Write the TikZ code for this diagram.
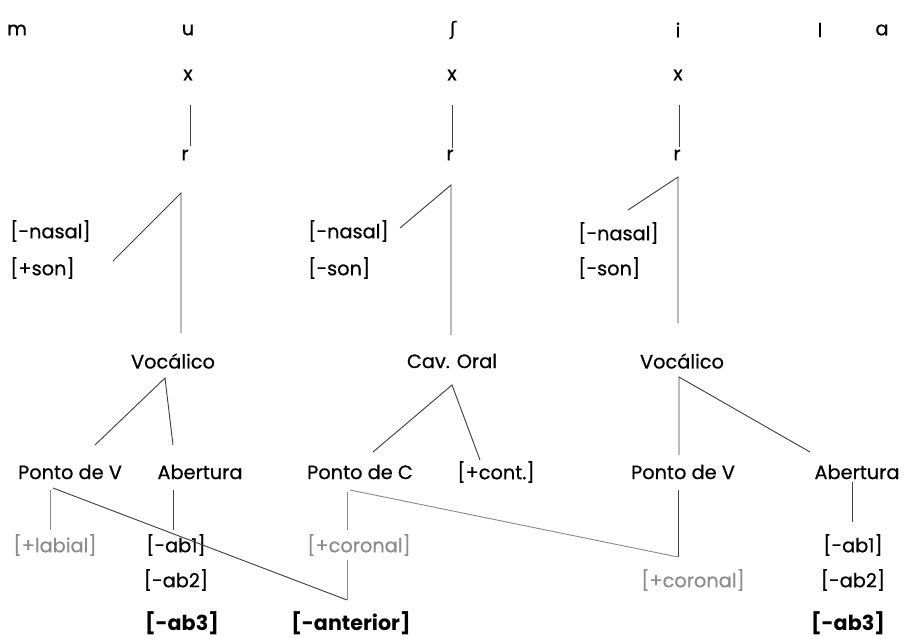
\documentclass[tikz,border=0pt]{standalone}
\usepackage{fontspec}
\setmainfont{Poppins}
\newfontfamily\medfont{Poppins}[FakeBold=0.6]
\newfontfamily\ipafont{DejaVu Sans}[FakeBold=0.6]
\definecolor{lgray}{gray}{0.55}
\definecolor{lnc}{gray}{0.25}
\begin{document}
\begin{tikzpicture}[x=0.75pt,y=-0.75pt,
  lbl/.style={inner sep=0pt,font=\medfont\fontsize{14.5}{16}\selectfont},
  glbl/.style={lbl,text=lgray},
  blbl/.style={inner sep=0pt,font=\fontsize{15.5}{17}\selectfont\bfseries},
  seg/.style={draw=lnc,line width=0.7pt},
  pseg/.style={draw=lgray,line width=0.7pt}]
\useasboundingbox (0,0) rectangle (907,639);
% top row
\node[lbl] (m) at (17,30) {m};
\node[lbl] (u) at (188,30) {u};
\node[lbl,font=\ipafont\fontsize{14}{16}\selectfont] (sh) at (453,30) {ʃ};
\node[lbl] (i) at (678,30) {i};
\node[lbl] (l) at (820,30) {l};
\node[lbl] (a) at (882,30) {a};
% x row
\node[lbl] (x1) at (188,75) {x};
\node[lbl] (x2) at (452,75) {x};
\node[lbl] (x3) at (678,75) {x};
% r row
\node[lbl] (r1) at (185,155) {r};
\node[lbl] (r2) at (450,155) {r};
\node[lbl] (r3) at (677,155) {r};
% coordinates
\coordinate (x1b) at (190,105); \coordinate (r1t) at (190,146);
\coordinate (x2b) at (452,105); \coordinate (r2t) at (452,148);
\coordinate (x3b) at (679,105); \coordinate (r3t) at (679,147);
\draw[seg] (x1b) -- (r1t);
\draw[seg] (x2b) -- (r2t);
\draw[seg] (x3b) -- (r3t);
% features
\node[lbl,anchor=west] (n1) at (10,231) {[-nasal]};
\node[lbl,anchor=west] (s1) at (10,268) {[+son]};
\node[lbl,anchor=west] (n2) at (308,231) {[-nasal]};
\node[lbl,anchor=west] (s2) at (308,268) {[-son]};
\node[lbl,anchor=west] (n3) at (578,233) {[-nasal]};
\node[lbl,anchor=west] (s3) at (578,268) {[-son]};
\coordinate (t1) at (181,193); \coordinate (d1) at (113,261); \coordinate (v1) at (181,333);
\coordinate (t2) at (451,185); \coordinate (d2) at (400,228); \coordinate (v2) at (451,335);
\coordinate (t3) at (678,177); \coordinate (d3) at (628,210); \coordinate (v3) at (678,323);
\draw[seg] (d1) -- (t1) -- (v1);
\draw[seg] (d2) -- (t2) -- (v2);
\draw[seg] (d3) -- (t3) -- (v3);
% mid nodes
\node[lbl] (voc1) at (173,361) {Vocálico};
\node[lbl] (cav) at (452,361) {Cav. Oral};
\node[lbl] (voc2) at (682,361) {Vocálico};
% row labels
\node[lbl] (pv1) at (70,472) {Ponto de V};
\node[lbl] (ab1) at (200,472) {Abertura};
\node[lbl] (pc) at (360,472) {Ponto de C};
\node[lbl] (cont) at (496,472) {[+cont.]};
\node[lbl] (pv2) at (683,472) {Ponto de V};
\node[lbl] (ab2) at (857,472) {Abertura};
\coordinate (vj1) at (165,378); \coordinate (pv1t) at (95,445); \coordinate (ab1t) at (173,445);
\coordinate (cj) at (452,385); \coordinate (pct) at (373,452); \coordinate (contt) at (480,460);
\coordinate (vj2) at (679,377); \coordinate (pv2t) at (679,455); \coordinate (ab2t) at (810,452);
\draw[seg] (pv1t) -- (vj1) -- (ab1t);
\draw[seg] (pct) -- (cj) -- (contt);
\draw[seg] (pv2t) -- (vj2) -- (ab2t);
% lower
\node[glbl] (lab) at (55,545) {[+labial]};
\node[lbl] (a11) at (176,545) {[-ab1]};
\node[lbl] (a12) at (176,580) {[-ab2]};
\node[glbl] (cor1) at (359,545) {[+coronal]};
\node[glbl] (cor2) at (693,580) {[+coronal]};
\node[lbl] (a21) at (853,545) {[-ab1]};
\node[lbl] (a22) at (853,580) {[-ab2]};
\node[blbl] (b1) at (182,623) {[-ab3]};
\node[blbl] (ant) at (351,623) {[-anterior]};
\node[blbl] (b2) at (848,623) {[-ab3]};
\coordinate (pv1b) at (50,490); \coordinate (labt) at (50,530);
\coordinate (pv1c) at (53,488); \coordinate (antt) at (347,600);
\coordinate (pcb) at (347,492); \coordinate (cor1t) at (347,530);
\coordinate (cor1b) at (347,560);
\coordinate (pcc) at (350,490); \coordinate (pv2e) at (678,557);
\coordinate (pv2b) at (678,490);
\coordinate (ab1b) at (173,490); \coordinate (a11t) at (173,530);
\coordinate (ab2b) at (852,482); \coordinate (a21t) at (852,522);
\draw[pseg] (pv1b) -- (labt);
\draw[seg] (pv1c) -- (antt);
\draw[pseg] (pcb) -- (cor1t);
\draw[pseg] (cor1b) -- (antt);
\draw[pseg] (pcc) -- (pv2e);
\draw[seg] (pv2b) -- (pv2e);
\draw[seg] (ab1b) -- (a11t);
\draw[seg] (ab2b) -- (a21t);
\end{tikzpicture}
\end{document}
